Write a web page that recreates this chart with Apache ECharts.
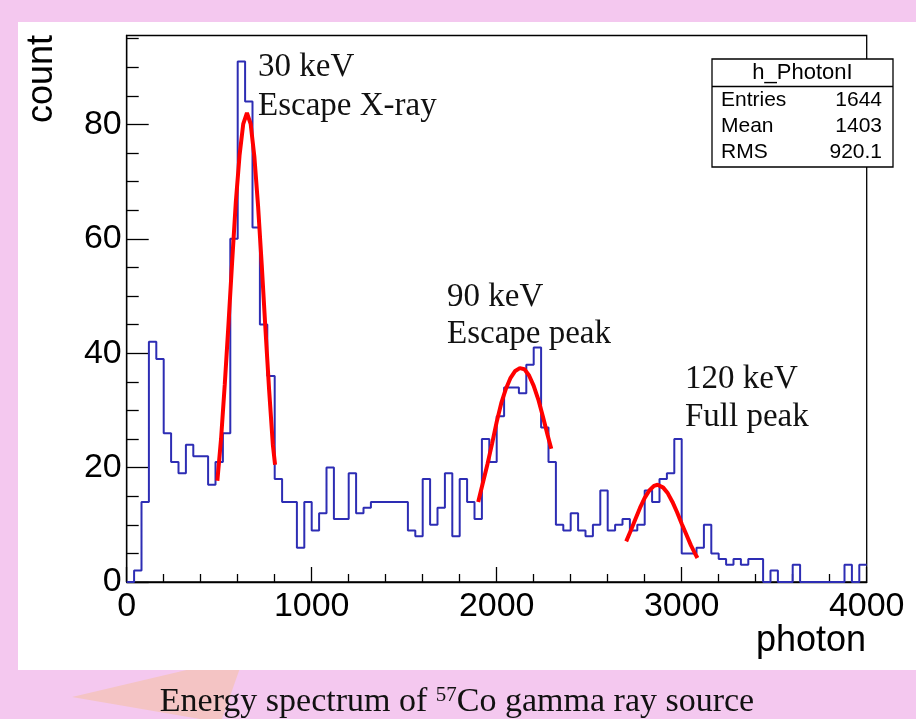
<!DOCTYPE html>
<html>
<head>
<meta charset="utf-8">
<script src="https://cdn.jsdelivr.net/npm/echarts@6/dist/echarts.min.js"></script>
<style>
html,body{margin:0;padding:0;background:#f4c8ef;}
#chart{width:916px;height:719px;}
</style>
</head>
<body>
<div id="chart"></div>
<script>
// h_PhotonI : 100 bins, 40 wide, 0..4000
var binWidth = 40
var counts = [
    0,2,14,42,39,26,21,19,24,22,
    22,17,21,26,60,91,84,62,45,36,
    18,14,14,6,14,9,12,20,11,11,
    19,12,13,14,14,14,14,14,9,8,
    18,10,13,19,8,18,14,11,25,21,
    29,34,34,33,38,41,27,21,10,9,
    12,9,8,10,16,9,10,11,9,10,
    16,14,18,19,25,5,5,6,10,5,
    4,3,4,3,4,4,0,2,0,0,
    3,0,0,0,0,0,0,3,0,3
]

// gaussian fits
var fit30X = [490,510,530,550,570,590,610,630,650,670,690,710,730,750,770,790,802]
var fit30Y = [17.7,25.0,34.5,45.0,56.0,66.5,74.6,80.1,82.0,80.1,74.4,65.8,55.4,44.2,33.5,24.0,20.5]
var fit90X = [1900,1925,1950,1975,2000,2025,2050,2075,2100,2125,2150,2175,2200,2225,2250,2275,2295]
var fit90Y = [14.0,17.3,20.6,24.2,28.0,31.3,33.8,35.7,36.9,37.4,37.2,36.1,34.3,31.9,28.9,25.7,23.3]
var fit120X = [2700,2725,2750,2775,2800,2825,2850,2870,2900,2925,2950,2975,3000,3025,3050,3075,3085]
var fit120Y = [7.1,9.0,11.0,13.0,14.7,16.0,16.8,17.0,16.5,15.5,14.0,12.2,10.2,8.3,6.4,4.8,4.2]

var xTicks = [0,1000,2000,3000,4000]
var yTicks = [0,20,40,60,80]
var yMinorTicks = [5,10,15,25,30,35,45,50,55,65,70,75,85,90,95]
var yMax = 95.55

var statsTitle = 'h_PhotonI'
var statsNames = ['Entries','Mean','RMS']
var statsValues = ['1644','1403','920.1']

var histData = counts.map(function(c,i){ return [i*binWidth, c] })
histData.push([counts.length*binWidth, counts[counts.length-1]])

function pairs(xs, ys){
    return xs.map(function(x,i){ return [x, ys[i]] })
}

var sans = '"Liberation Sans", Arial, sans-serif'
var serif = '"Liberation Serif", "Times New Roman", serif'

function note(x, y, text){
    return {type:'text', x:x, y:y, z:50,
        style:{text:text, font:'33px ' + serif, fill:'#111', textAlign:'left', textVerticalAlign:'middle'}}
}

var stats = [
    {type:'rect', shape:{x:0, y:0, width:181, height:108}, style:{fill:'#fff', stroke:'#000', lineWidth:1.3}},
    {type:'line', shape:{x1:0, y1:27.5, x2:181, y2:27.5}, style:{stroke:'#000', lineWidth:1.3}},
    {type:'text', x:90.5, y:13.5, style:{text:statsTitle, font:'22px ' + sans, fill:'#000', textAlign:'center', textVerticalAlign:'middle'}}
]
statsNames.forEach(function(n,i){
    stats.push({type:'text', x:9, y:41 + i*26, style:{text:n, font:'21px ' + sans, fill:'#000', textAlign:'left', textVerticalAlign:'middle'}})
    stats.push({type:'text', x:170, y:41 + i*26, style:{text:statsValues[i], font:'21px ' + sans, fill:'#000', textAlign:'right', textVerticalAlign:'middle'}})
})

var plain = function(v){ return String(v) }

var chart = echarts.init(document.getElementById('chart'))
var option = {
    animation:false,
    backgroundColor:'transparent',
    grid:{left:126.7, right:49.3, top:35.5, bottom:137, containLabel:false, outerBoundsMode:'none',
        show:true, borderColor:'#000', borderWidth:1.3, backgroundColor:'transparent'},
    xAxis:[{
        type:'value', min:0, max:4000, interval:1000,
        axisLine:{lineStyle:{color:'#000', width:1.3}},
        axisTick:{inside:true, length:15, lineStyle:{color:'#000', width:1.3}},
        minorTick:{show:true, splitNumber:5, length:8, lineStyle:{color:'#000', width:1.3}},
        splitLine:{show:false},
        axisLabel:{margin:8, color:'#000', fontSize:34, fontFamily:sans, customValues:xTicks, formatter:plain}
    }],
    yAxis:[{
        type:'value', min:0, max:yMax,
        axisLine:{lineStyle:{color:'#000', width:1.3}},
        axisTick:{inside:true, length:22, customValues:yTicks, lineStyle:{color:'#000', width:1.3}},
        splitLine:{show:false},
        axisLabel:{margin:5, color:'#000', fontSize:34, fontFamily:sans, customValues:yTicks, formatter:plain}
    },{
        type:'value', min:0, max:yMax, position:'left', offset:0,
        axisLine:{show:false},
        axisTick:{inside:true, length:12, customValues:yMinorTicks, lineStyle:{color:'#000', width:1.3}},
        splitLine:{show:false},
        axisLabel:{show:false}
    }],
    series:[
        {name:'h_PhotonI', type:'line', step:'end', data:histData, showSymbol:false,
            lineStyle:{color:'#2d2db4', width:2}, z:3},
        {name:'fit 30 keV', type:'line', data:pairs(fit30X, fit30Y), showSymbol:false,
            lineStyle:{color:'#ff0000', width:4}, z:4},
        {name:'fit 90 keV', type:'line', data:pairs(fit90X, fit90Y), showSymbol:false,
            lineStyle:{color:'#ff0000', width:4}, z:4},
        {name:'fit 120 keV', type:'line', data:pairs(fit120X, fit120Y), showSymbol:false,
            lineStyle:{color:'#ff0000', width:4}, z:4}
    ],
    graphic:[
        // backdrop: pink slide, peach star tip, white panel
        {type:'polygon', z:-100, shape:{points:[[72,697],[195,668],[240,668],[222,719],[200,719]]},
            style:{fill:'#f4c4c4'}},
        {type:'rect', z:-90, shape:{x:18, y:22, width:898, height:648}, style:{fill:'#fff'}},
        note(258, 67, '30 keV'),
        note(258, 106, 'Escape X-ray'),
        note(447, 297, '90 keV'),
        note(447, 334, 'Escape peak'),
        note(685, 379, '120 keV'),
        note(685, 417, 'Full peak'),
        {type:'text', x:42, y:35, rotation:Math.PI/2, z:50,
            style:{text:'count', font:'36px ' + sans, fill:'#000', textAlign:'right', textVerticalAlign:'middle'}},
        {type:'text', x:866, y:641, z:50,
            style:{text:'photon', font:'36px ' + sans, fill:'#000', textAlign:'right', textVerticalAlign:'middle'}},
        {type:'group', x:712, y:59, z:100, children:stats},
        {type:'text', x:457, y:702, z:50,
            style:{text:'Energy spectrum of {sup|57}Co gamma ray source', fontSize:34, fontFamily:serif, fill:'#111',
                textAlign:'center', textVerticalAlign:'middle',
                rich:{sup:{fontSize:21, fontFamily:serif, fill:'#111', verticalAlign:'top'}}}}
    ]
}
chart.setOption(option)
window.onresize = function(){ chart.resize() }
</script>
</body>
</html>
